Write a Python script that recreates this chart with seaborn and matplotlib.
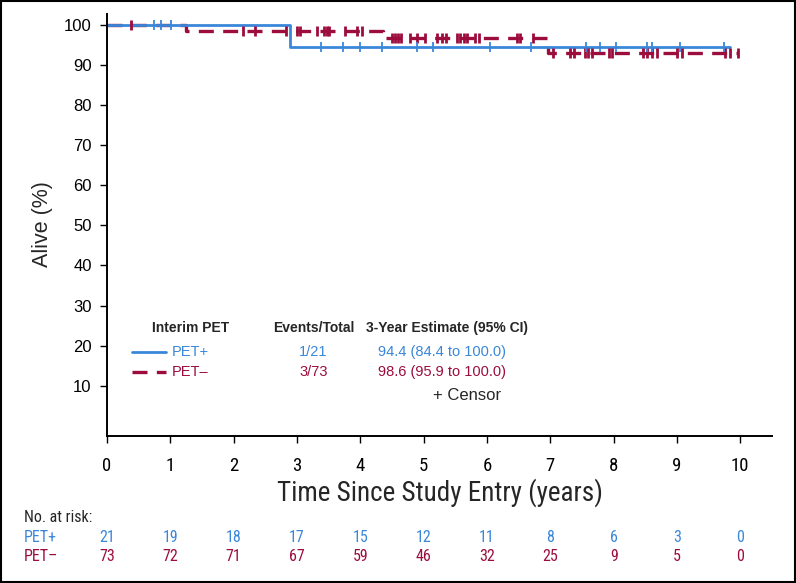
import numpy as np
import pandas as pd
import matplotlib
matplotlib.use("Agg")
import matplotlib.pyplot as plt
import seaborn as sns
from matplotlib import font_manager
from matplotlib.font_manager import FontProperties
from matplotlib.transforms import blended_transform_factory
from matplotlib.patches import Rectangle

# ---------------- data ----------------
pos_step_t = [0.0, 2.89, 9.83]
pos_step_s = [100.0, 94.4, 94.4]
neg_step_t = [0.0, 1.25, 4.36, 6.96, 9.97]
neg_step_s = [100.0, 98.6, 96.8, 93.0, 93.0]

pos_censor = [0.74, 0.85, 1.01, 3.38, 3.72, 4.0, 4.34, 4.89, 5.15, 6.05, 6.69,
              7.56, 7.79, 8.03, 8.52, 8.60, 9.05, 9.75]
neg_censor = [0.38, 2.15, 2.34, 2.83, 3.0, 3.05, 3.31, 3.43, 3.47, 3.51, 3.76,
              3.95, 4.02, 4.50, 4.55, 4.60, 4.65, 4.79, 4.89, 5.02, 5.21, 5.29,
              5.36, 5.52, 5.58, 5.63, 5.68, 5.81, 5.87, 6.47, 6.52, 6.73,
              7.04, 7.31, 7.37, 7.55, 7.60, 7.66, 7.92, 7.97, 8.47, 8.53, 8.60,
              8.68, 9.00, 9.08, 9.76, 9.84, 9.97]

groups = ["PET+", "PET\u2013"]
events_total = ["1/21", "3/73"]
estimates = ["94.4 (84.4 to 100.0)", "98.6 (95.9 to 100.0)"]
risk_times = list(range(0, 11))
risk_pos = [21, 19, 18, 17, 15, 12, 11, 8, 6, 3, 0]
risk_neg = [73, 72, 71, 67, 59, 46, 32, 25, 9, 5, 0]

BLUE = "#3a87d9"
RED = "#9c0c3c"

# ---------------- fonts ----------------
def find_narrow():
    fl = font_manager.fontManager.ttflist
    prefs = ["Liberation Sans Narrow", "Roboto Condensed", "Open Sans Condensed",
             "Arial Narrow"]
    for p in prefs:
        for f in fl:
            if f.name == p and f.weight in (400, "normal", "regular") and f.style == "normal":
                return f.fname
    for f in fl:
        if f.name == "DejaVu Sans" and "condensed" in str(f.stretch).lower() \
                and f.style == "normal" and f.weight in (400, "normal"):
            return f.fname
    for f in fl:
        if "Condensed" in f.fname and "Bold" not in f.fname and "Oblique" not in f.fname \
                and "Italic" not in f.fname:
            return f.fname
    return None


narrow_path = find_narrow()

sns.set_theme(style="ticks")
plt.rcParams["font.family"] = ["Liberation Sans", "DejaVu Sans"]


def nfp(size):
    if narrow_path:
        return FontProperties(fname=narrow_path, size=size)
    return FontProperties(family=["Liberation Sans", "DejaVu Sans"], size=size)


fig = plt.figure(figsize=(7.96, 5.83), dpi=100)
ax = fig.add_axes([0.1344, 0.2521, 0.9698 - 0.1344, 0.976 - 0.2521])


def step_value(t_arr, s_arr, t):
    idx = np.searchsorted(np.array(t_arr), t, side="right") - 1
    return s_arr[max(idx, 0)]


curve = pd.concat([
    pd.DataFrame({"t": pos_step_t, "s": pos_step_s, "g": groups[0]}),
    pd.DataFrame({"t": neg_step_t, "s": neg_step_s, "g": groups[1]}),
])
cens_pos = pd.DataFrame({"t": pos_censor,
                         "s": [step_value(pos_step_t, pos_step_s, t) for t in pos_censor]})
cens_neg = pd.DataFrame({"t": neg_censor,
                         "s": [step_value(neg_step_t, neg_step_s, t) for t in neg_censor]})

sns.lineplot(data=curve[curve.g == groups[1]], x="t", y="s", ax=ax, color=RED,
             drawstyle="steps-post", lw=2.4, estimator=None, legend=False,
             linestyle=(0, (4.5, 2.8)))
sns.lineplot(data=curve[curve.g == groups[0]], x="t", y="s", ax=ax, color=BLUE,
             drawstyle="steps-post", lw=2.0, estimator=None, legend=False)
sns.scatterplot(data=cens_neg, x="t", y="s", ax=ax, marker="|", s=50,
                color=RED, linewidth=2.0, legend=False, zorder=4)
sns.scatterplot(data=cens_pos, x="t", y="s", ax=ax, marker="|", s=42,
                color=BLUE, linewidth=1.3, legend=False, zorder=5)

ax.set_xlim(0, 10.5)
ax.set_ylim(-2.55, 102.74)
ax.set_xticks(range(0, 11))
ax.set_yticks(range(10, 101, 10))
ax.set_xticklabels([str(i) for i in range(0, 11)], fontproperties=nfp(13.5))
ax.set_yticklabels([str(v) for v in range(10, 101, 10)], fontsize=12)
ax.tick_params(axis="both", direction="out", length=5, width=1.0, colors="black",
               pad=6)
ax.tick_params(axis="x", pad=10)
for side in ["top", "right"]:
    ax.spines[side].set_visible(False)
for side in ["left", "bottom"]:
    ax.spines[side].set_linewidth(1.4)
    ax.spines[side].set_color("black")
ax.set_xlabel("")
ax.set_ylabel("")

fig.text(0.553, 0.155, "Time Since Study Entry (years)", ha="center", va="center",
         fontproperties=nfp(19.5))
fig.text(0.054, 0.615, "Alive (%)", ha="center", va="center", rotation=90,
         fontsize=15.5)

# ---------------- in-plot legend table ----------------
hdr_y = 24.4
ax.text(0.71, hdr_y, "Interim PET", fontsize=10, fontweight="bold", va="center")
ax.text(3.26, hdr_y, "Events/Total", fontsize=10, fontweight="bold", va="center",
        ha="center")
ax.text(4.09, hdr_y, "3-Year Estimate (95% CI)", fontsize=10, fontweight="bold",
        va="center")
row_y = [18.5, 13.5]
cols = [BLUE, RED]
styles = ["-", (0, (4.5, 2.8))]
lws = [2.0, 2.4]
for i in range(2):
    ax.plot([0.40, 0.93], [row_y[i], row_y[i]], color=cols[i], lw=lws[i],
            linestyle=styles[i])
    ax.text(1.02, row_y[i], groups[i], color=cols[i], fontsize=10.5, va="center")
    ax.text(3.26, row_y[i], events_total[i], color=cols[i], fontsize=10.5,
            va="center", ha="center")
    ax.text(6.30, row_y[i], estimates[i], color=cols[i], fontsize=10.5,
            va="center", ha="right")
ax.text(6.23, 7.6, "+ Censor", fontsize=12, va="center", ha="right")

# ---------------- number at risk ----------------
tr = blended_transform_factory(ax.transData, fig.transFigure)
fig.text(0.030, 0.1115, "No. at risk:", fontproperties=nfp(11.5), va="center")
fig.text(0.030, 0.0772, groups[0], fontproperties=nfp(11.5), va="center",
         color=BLUE)
fig.text(0.030, 0.0446, groups[1], fontproperties=nfp(11.5), va="center",
         color=RED)
for t, a, b in zip(risk_times, risk_pos, risk_neg):
    ax.text(t, 0.0772, str(a), transform=tr, ha="center", va="center",
            fontproperties=nfp(11.5), color=BLUE, clip_on=False)
    ax.text(t, 0.0446, str(b), transform=tr, ha="center", va="center",
            fontproperties=nfp(11.5), color=RED, clip_on=False)

fig.patches.append(Rectangle((0.001, 0.001), 0.998, 0.998, transform=fig.transFigure,
                             fill=False, edgecolor="black", lw=1.5))

fig.savefig("out.png", dpi=100)
